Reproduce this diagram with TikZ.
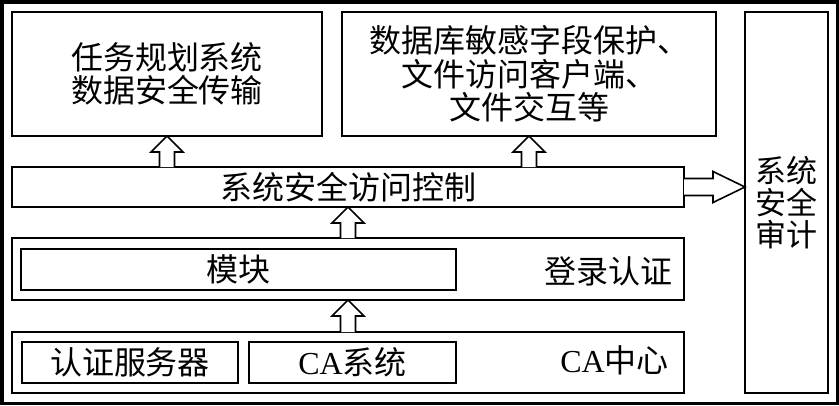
\documentclass[tikz,border=0pt]{standalone}
\usepackage{fontspec}
\setmainfont{Liberation Serif}
\newfontfamily\song{Noto Sans CJK SC}
\usetikzlibrary{calc}
\tikzset{
  box/.style={draw, line width=1.6pt, inner sep=0pt, outer sep=0pt,
    font=\song\fontsize{32}{33.5}\selectfont, align=center},
  barrow/.style={draw, line width=1.6pt, fill=white, line join=miter},
  lbl/.style={inner sep=0pt, font=\song\fontsize{32}{33.5}\selectfont}
}
\newcommand\blockup[2]{%
  \draw[barrow] let \p1=(#1), \p2=(#2) in
    (\x1-7.5pt,\y1) -- (\x1-7.5pt,\y2-16pt) -- (\x1-16pt,\y2-16pt) -- (\x1,\y2)
    -- (\x1+16pt,\y2-16pt) -- (\x1+7.5pt,\y2-16pt) -- (\x1+7.5pt,\y1);}
\begin{document}
\begin{tikzpicture}[x=1pt,y=-1pt]
\useasboundingbox (0,0) rectangle (839,405);
\fill[white] (0,0) rectangle (839,405);
\draw[line width=3.5pt] (1.75,1.75) rectangle (837.25,403.25);

\node[box, minimum width=310pt, minimum height=124pt] (t1) at (167,74) {任务规划系统\\数据安全传输};
\node[box, minimum width=374pt, minimum height=124pt] (t2) at (529,74) {数据库敏感字段保护、\\文件访问客户端、\\文件交互等};
\node[box, minimum width=83pt, minimum height=381pt, font=\song\fontsize{31}{32}\selectfont] (audit) at (786.5,202.5) {系统\\安全\\审计};
\node[box, minimum width=672pt, minimum height=40pt] (acc) at (348,187) {系统安全访问控制};

\node[box, minimum width=672pt, minimum height=62pt] (login) at (348,269) {};
\node[box, minimum width=435pt, minimum height=41pt] (mod) at (238.5,269.5) {模块};
\node[lbl, anchor=east] (lgl) at (673,271) {登录认证};

\node[box, minimum width=672pt, minimum height=61pt] (ca) at (348,362.5) {};
\node[box, minimum width=216pt, minimum height=41pt] (auth) at (130,362.5) {认证服务器};
\node[box, minimum width=207pt, minimum height=41pt] (casys) at (352.5,362.5) {{\rmfamily CA}系统};
\node[lbl, anchor=east] (cal) at (669,360) {{\rmfamily CA}中心};

\blockup{acc.north -| t1.south}{t1.south}
\blockup{acc.north -| t2.south}{t2.south}
\blockup{login.north}{acc.south}
\blockup{ca.north}{login.south}

\draw[barrow] let \p1=(acc.east), \p2=(audit.west) in
  (\x1,\y1+8.5pt) -- (\x2-32pt,\y1+8.5pt) -- (\x2-32pt,\y1+15.5pt) -- (\x2,\y1)
  -- (\x2-32pt,\y1-15.5pt) -- (\x2-32pt,\y1-8.5pt) -- (\x1,\y1-8.5pt);
\end{tikzpicture}
\end{document}
